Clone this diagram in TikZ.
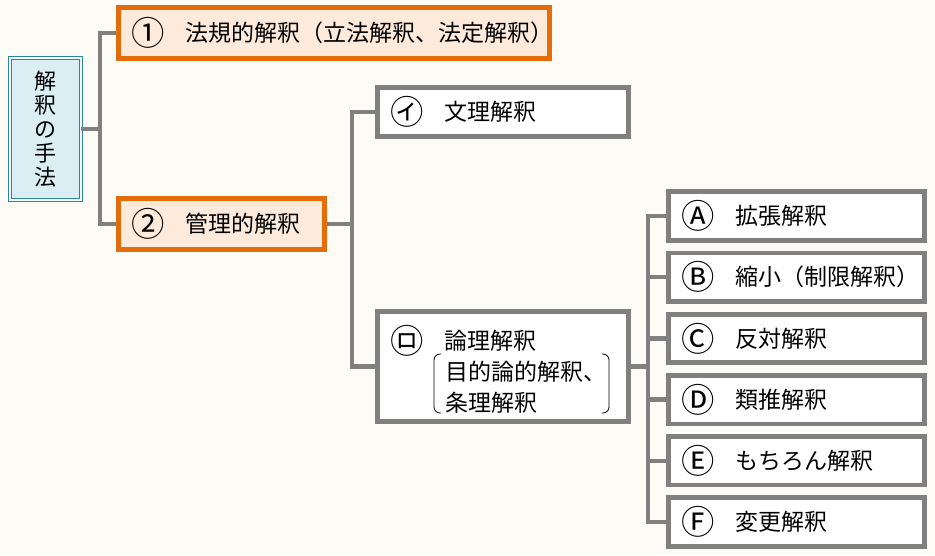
\documentclass[tikz,border=0pt]{standalone}
\usepackage{fontspec}
\newfontfamily\jpfont{Noto Sans CJK JP}
\usetikzlibrary{calc,positioning}
\definecolor{bgpaper}{RGB}{252,251,246}
\definecolor{boxgray}{RGB}{128,128,128}
\definecolor{orangeline}{RGB}{228,108,10}
\definecolor{orangefill}{RGB}{253,234,218}
\definecolor{tealline}{RGB}{49,132,155}
\definecolor{bluefill}{RGB}{219,238,244}
\newcommand{\marknum}[1]{\smash{\raisebox{-4pt}{\scalebox{1.45}{#1}}}\nobreak\hspace{21pt}}

\tikzset{
  every node/.style={font=\jpfont\fontsize{23}{31}\selectfont},
  orangebox/.style={draw=orangeline, fill=orangefill, line width=5pt, minimum height=51pt,
    text width=#1, inner xsep=13pt, inner ysep=0pt, align=left},
  graybox/.style={draw=boxgray, fill=white, line width=4.7pt, minimum height=48.5pt,
    text width=#1, inner xsep=13pt, inner ysep=0pt, align=left},
  methodbox/.style={draw=tealline, double=bluefill!40!white, double distance=2pt, line width=1.2pt,
    fill=bluefill, minimum width=70.6pt, minimum height=141.6pt, inner sep=0pt, align=center,
    font=\jpfont\fontsize{22}{24}\selectfont},
  link/.style={draw=boxgray, line width=4.3pt},
}

\begin{document}
\begin{tikzpicture}[x=1pt,y=-1pt]
    \useasboundingbox (0,0) rectangle (935,555);
    \fill[bgpaper] (0,0) rectangle (935,555);

    \node[methodbox] (shuho) at (45.5,129) {解\\釈\\の\\手\\法};
    \node[orangebox=405pt] (hoki) at (334,33) {\marknum{①}法規的解釈（立法解釈、法定解釈）};
    \node[orangebox=180pt] (kanri) at (221.5,224) {\marknum{②}管理的解釈};
    \node[graybox=225.5pt] (bunri) at (503,112) {\marknum{㋑}文理解釈};
    \node[graybox=225.5pt, minimum height=110.5pt] (ronri) at (503,366.5)
        {\rule{0pt}{30pt}\marknum{㋺}論理解釈\\\hspace*{55pt}目的論的解釈、\\\hspace*{55pt}条理解釈};

    \node[graybox=230.5pt] (kakucho) at (796.5,216) {\marknum{Ⓐ}拡張解釈};
    \node[graybox=230.5pt, below=8pt of kakucho] (shukusho) {\marknum{Ⓑ}縮小（制限解釈）};
    \node[graybox=230.5pt, below=8pt of shukusho] (hantai) {\marknum{Ⓒ}反対解釈};
    \node[graybox=230.5pt, below=8pt of hantai] (ruisui) {\marknum{Ⓓ}類推解釈};
    \node[graybox=230.5pt, below=8pt of ruisui] (mochiron) {\marknum{Ⓔ}もちろん解釈};
    \node[graybox=230.5pt, below=8pt of mochiron] (henko) {\marknum{Ⓕ}変更解釈};

    \draw[line width=0.8pt, rounded corners=6pt] ($(ronri.center)+(-62,-12.5)$) -- ($(ronri.center)+(-69,-12.5)$)
        -- ($(ronri.center)+(-69,46.5)$) -- ($(ronri.center)+(-62,46.5)$);
    \draw[line width=0.8pt, rounded corners=6pt] ($(ronri.center)+(99,-12.5)$) -- ($(ronri.center)+(106,-12.5)$)
        -- ($(ronri.center)+(106,46.5)$) -- ($(ronri.center)+(99,46.5)$);

    \coordinate (j1) at (100,0);
    \coordinate (j2) at (352,0);
    \coordinate (j3) at (648,0);
    \draw[link] (shuho.east) -- (shuho.east -| j1);
    \draw[link] (hoki.west) -| (kanri.west -| j1) -- (kanri.west);
    \draw[link] (kanri.east) -- (kanri.east -| j2);
    \draw[link] (bunri.west) -| (ronri.west -| j2) -- (ronri.west);
    \draw[link] (ronri.east) -- (ronri.east -| j3);
    \draw[link] (kakucho.west) -| (henko.west -| j3) -- (henko.west);
    \foreach \n in {shukusho,hantai,ruisui,mochiron}
        \draw[link] (\n.west) -- (\n.west -| j3);
\end{tikzpicture}
\end{document}
